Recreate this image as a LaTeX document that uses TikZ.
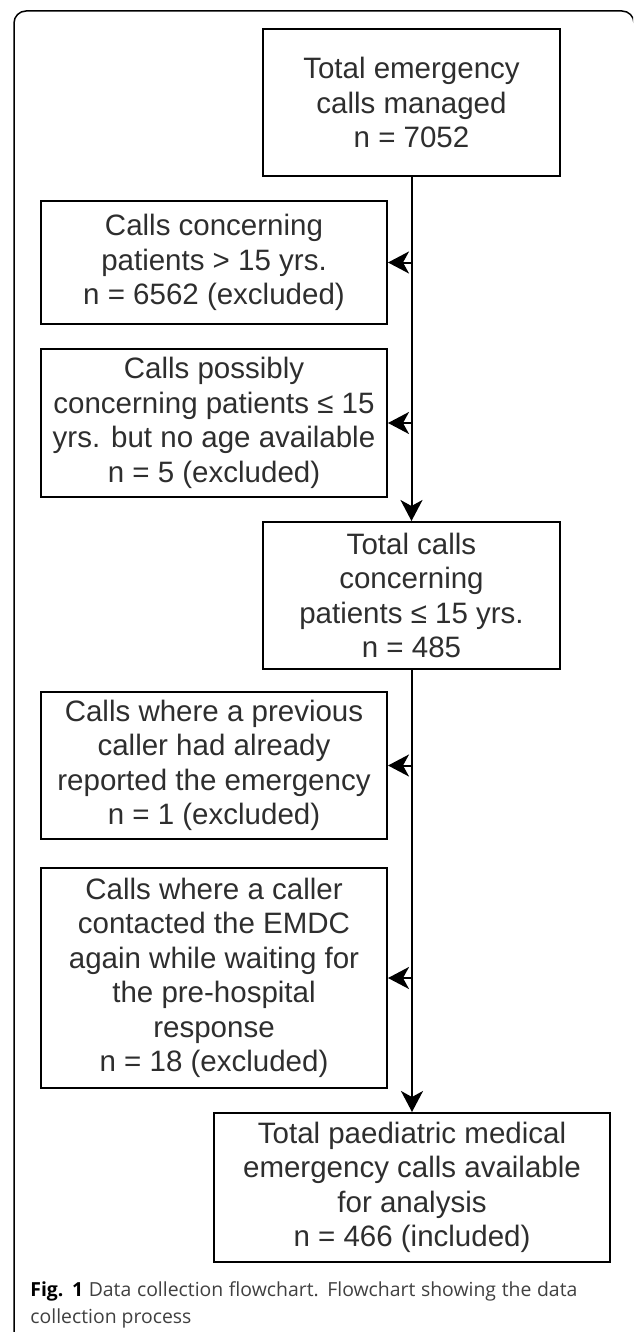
\documentclass[tikz,border=0pt]{standalone}
\usepackage{fontspec}
\setmainfont{Liberation Sans}
\newfontfamily\capfont{Open Sans}
\usetikzlibrary{arrows.meta}

\tikzset{
  box/.style={draw, line width=1pt, align=center, inner sep=1pt,
    text=black!82, font=\fontsize{14.75pt}{17.25pt}\selectfont},
  flow/.style={line width=1pt, -{Stealth[length=10.5pt,width=11pt,inset=3pt]}}
}

\begin{document}
\begin{tikzpicture}[x=0.5pt, y=-0.5pt]
  \useasboundingbox (0,0) rectangle (633,1332);
  \begin{scope}
    \clip (0,0) rectangle (633,1332);
    \draw [line width=0.75pt, rounded corners=6pt] (14,1345) -- (14,11) -- (634,11) -- (634,1345);
  \end{scope}

  \node [box, minimum width=148.5pt, minimum height=73.5pt] (total) at (411.5,102.5)
    {Total emergency\\calls managed\\n = 7052};
  \node [box, minimum width=173pt, minimum height=61.5pt] (older) at (214,262.5)
    {Calls concerning\\patients > 15 yrs.\\n = 6562 (excluded)};
  \node [box, minimum width=173pt, minimum height=74pt] (noage) at (214,423)
    {Calls possibly\\concerning patients ≤ 15\\yrs. but no age available\\n = 5 (excluded)};
  \node [box, minimum width=148.5pt, minimum height=73.5pt] (young) at (411.5,595.5)
    {Total calls\\concerning\\patients ≤ 15 yrs.\\n = 485};
  \node [box, minimum width=173pt, minimum height=73.5pt] (repeat) at (214,765.5)
    {Calls where a previous\\caller had already\\reported the emergency\\n = 1 (excluded)};
  \node [box, minimum width=173pt, minimum height=110pt] (again) at (214,978)
    {Calls where a caller\\contacted the EMDC\\again while waiting for\\the pre-hospital\\response\\n = 18 (excluded)};
  \node [box, minimum width=198pt, minimum height=74.5pt] (final) at (412,1187.5)
    {Total paediatric medical\\emergency calls available\\for analysis\\n = 466 (included)};

  \draw [flow] (total) -- (young);
  \draw [flow] (total.south |- older.east) -- (older.east);
  \draw [flow] (total.south |- noage.east) -- (noage.east);
  \draw [flow] (young.south -| final.north) -- (final.north);
  \draw [flow] (final.north |- repeat.east) -- (repeat.east);
  \draw [flow] (final.north |- again.east) -- (again.east);

  \node [anchor=north west, inner sep=0pt, align=left,
    text=black!75, font=\capfont\fontsize{9.7pt}{13.5pt}\selectfont] (caption) at (30,1281)
    {\makebox[273.5pt][s]{{\bfseries\color{black}Fig. 1} Data collection flowchart. Flowchart showing the data}\\
     collection process};
\end{tikzpicture}
\end{document}
